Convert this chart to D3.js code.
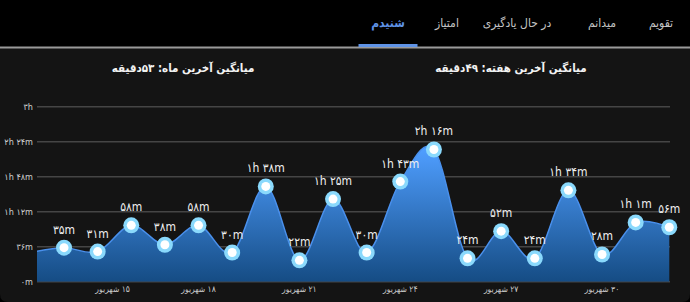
<!DOCTYPE html>
<html><head><meta charset="utf-8">
<script src="https://cdn.jsdelivr.net/npm/d3@7"></script>
<style>
html,body{margin:0;padding:0;background:#000;}
svg{display:block;}
text{font-family:"DejaVu Sans Condensed","DejaVu Sans",sans-serif;}
</style></head>
<body>
<script>
// ---- data ----
const categories = ["۱۳ شهریور","۱۴ شهریور","۱۵ شهریور","۱۶ شهریور","۱۷ شهریور","۱۸ شهریور","۱۹ شهریور","۲۰ شهریور","۲۱ شهریور","۲۲ شهریور","۲۳ شهریور","۲۴ شهریور","۲۵ شهریور","۲۶ شهریور","۲۷ شهریور","۲۸ شهریور","۲۹ شهریور","۳۰ شهریور","۳۱ شهریور","۱ مهر"];
const minutes = [30, 35, 31, 58, 38, 58, 30, 98, 22, 85, 30, 103, 136, 24, 52, 24, 94, 28, 61, 56];
const yTicks = [0, 36, 72, 108, 144, 180];
const xTickLabels = ["۱۵ شهریور","۱۸ شهریور","۲۱ شهریور","۲۴ شهریور","۲۷ شهریور","۳۰ شهریور"];
const tabs = ["تقویم","میدانم","در حال یادگیری","امتیاز","شنیدم"];
const activeTab = "شنیدم";
const titles = ["میانگین آخرین هفته: ۴۹دقیقه","میانگین آخرین ماه: ۵۳دقیقه"];

// ---- helpers ----
const fa = s => String(s).replace(/\d/g, d => "۰۱۲۳۴۵۶۷۸۹"[d]);
const fmt = v => { const h = Math.floor(v/60), m = v%60;
  if (h>0 && m>0) return fa(h)+"h "+fa(m)+"m";
  if (h>0) return fa(h)+"h";
  return fa(m)+"m"; };

const W = 690, H = 302;
const svg = d3.select("body").append("svg").attr("width", W).attr("height", H);

// background panels
svg.append("rect").attr("width", W).attr("height", H).attr("fill", "#000");
const rad = 8, panelTop = 48;
svg.append("path").attr("fill", "#141414")
  .attr("d", `M0,${panelTop}H${W}V${H-rad}Q${W},${H} ${W-rad},${H}H${rad}Q0,${H} 0,${H-rad}Z`);
svg.append("rect").attr("x", 0).attr("y", 46.5).attr("width", W).attr("height", 2).attr("fill", "#9a9a9a");

// tabs
const tabCenters = [661, 602, 517, 447, 388];
svg.selectAll(".tab").data(tabs).join("text")
  .attr("x", (d,i) => tabCenters[i]).attr("y", 27)
  .attr("text-anchor", "middle").attr("direction", "rtl")
  .attr("font-size", 12)
  .attr("font-weight", d => d === activeTab ? "bold" : "normal")
  .attr("fill", d => d === activeTab ? "#5f93e6" : "#c4c4c4")
  .text(d => d);
const ai = tabs.indexOf(activeTab);
svg.append("rect").attr("x", tabCenters[ai]-29.5).attr("y", 44).attr("width", 59).attr("height", 3).attr("fill", "#5f93e6");

// titles
const titleX = [511, 183];
svg.selectAll(".title").data(titles).join("text")
  .attr("x", (d,i) => titleX[i]).attr("y", 72)
  .attr("text-anchor", "middle").attr("direction", "rtl")
  .attr("font-size", 11.5).attr("font-weight", "bold").attr("fill", "#f2f2f2")
  .text(d => d);

// scales
const plot = {l: 37, r: 670, t: 106.7, b: 281.7};
const x = d3.scalePoint().domain(categories).range([30.4, 669.3]);
const y = d3.scaleLinear().domain([0, 180]).range([plot.b, plot.t]);

// grid + y labels
svg.selectAll(".grid").data(yTicks).join("line")
  .attr("x1", plot.l).attr("x2", plot.r)
  .attr("y1", d => y(d)).attr("y2", d => y(d))
  .attr("stroke", "#454545").attr("stroke-width", 1.5);
svg.selectAll(".ylab").data(yTicks).join("text")
  .attr("x", 33).attr("y", d => y(d)).attr("dy", "0.35em")
  .attr("text-anchor", "end").attr("font-size", 9).attr("fill", "#cfcfcf")
  .text(d => fmt(d));

// gradient & clip
const defs = svg.append("defs");
const g = defs.append("linearGradient").attr("id", "grad").attr("gradientUnits", "userSpaceOnUse")
  .attr("x1", 0).attr("x2", 0).attr("y1", y(d3.max(minutes))).attr("y2", plot.b);
g.append("stop").attr("offset", 0).attr("stop-color", "#4f9eff");
g.append("stop").attr("offset", 1).attr("stop-color", "#154c84");
defs.append("clipPath").attr("id", "clip").append("rect")
  .attr("x", plot.l).attr("y", 90).attr("width", plot.r - plot.l).attr("height", plot.b - 90);

const pts = categories.map((c,i) => ({c, v: minutes[i]}));
const curve = d3.curveCardinal.tension(0);
const area = d3.area().x(d => x(d.c)).y0(plot.b).y1(d => y(d.v)).curve(curve);
const line = d3.line().x(d => x(d.c)).y(d => y(d.v)).curve(curve);
const cg = svg.append("g").attr("clip-path", "url(#clip)");
cg.append("path").datum(pts).attr("d", area).attr("fill", "url(#grad)");
cg.append("path").datum(pts).attr("d", line).attr("fill", "none").attr("stroke", "#4a90ec").attr("stroke-width", 1.5);

// x labels
svg.selectAll(".xlab").data(xTickLabels).join("text")
  .attr("x", (d,i) => x(d) + (i === 0 ? 15 : 0)).attr("y", 292)
  .attr("text-anchor", "middle").attr("direction", "rtl")
  .attr("font-size", 8.5).attr("fill", "#c8c8c8")
  .text(d => d);

// markers + value labels
const vis = pts.filter(d => x(d.c) >= plot.l);
svg.selectAll(".mo").data(vis).join("circle")
  .attr("cx", d => x(d.c)).attr("cy", d => y(d.v)).attr("r", 8).attr("fill", "#8ad9fc");
svg.selectAll(".mi").data(vis).join("circle")
  .attr("cx", d => x(d.c)).attr("cy", d => y(d.v)).attr("r", 4.5).attr("fill", "#ffffff");
svg.selectAll(".vl").data(vis).join("text")
  .attr("x", d => x(d.c)).attr("y", d => y(d.v) - 14)
  .attr("text-anchor", "middle").attr("font-size", 12).attr("fill", "#f0f0f0")
  .text(d => fmt(d.v));
</script>
</body></html>
